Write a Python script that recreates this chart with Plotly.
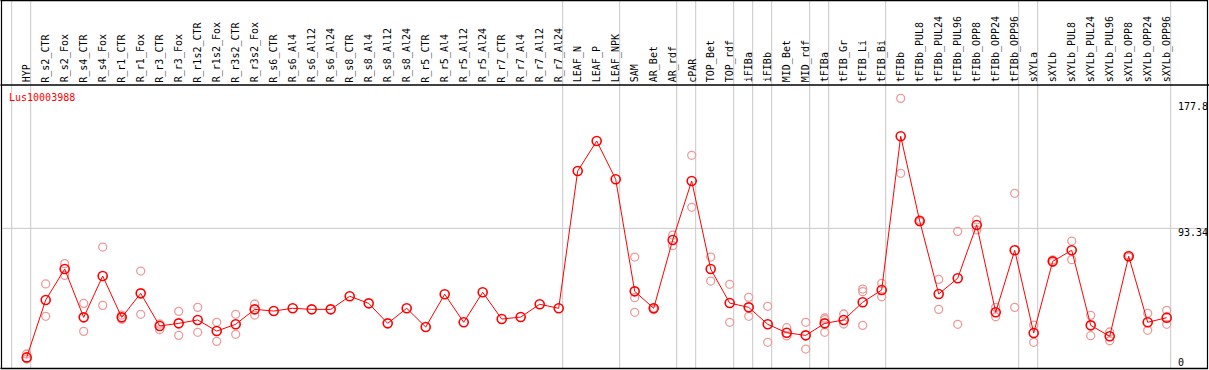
import plotly.graph_objects as go

W, H = 1209, 370

categories = ["HYP", "R_s2_CTR", "R_s2_Fox", "R_s4_CTR", "R_s4_Fox", "R_r1_CTR", "R_r1_Fox",
              "R_r3_CTR", "R_r3_Fox", "R_r1s2_CTR", "R_r1s2_Fox", "R_r3s2_CTR", "R_r3s2_Fox",
              "R_s6_CTR", "R_s6_Al4", "R_s6_Al12", "R_s6_Al24", "R_s8_CTR", "R_s8_Al4",
              "R_s8_Al12", "R_s8_Al24", "R_r5_CTR", "R_r5_Al4", "R_r5_Al12", "R_r5_Al24",
              "R_r7_CTR", "R_r7_Al4", "R_r7_Al12", "R_r7_Al24", "LEAF_N", "LEAF_P", "LEAF_NPK",
              "SAM", "AR_Bet", "AR_rdf", "cPAR", "TOP_Bet", "TOP_rdf", "iFIBa", "iFIBb",
              "MID_Bet", "MID_rdf", "tFIBa", "tFIB_Gr", "tFIB_Li", "tFIB_Bi", "tFIBb",
              "tFIBb_PUL8", "tFIBb_PUL24", "tFIBb_PUL96", "tFIBb_OPP8", "tFIBb_OPP24",
              "tFIBb_OPP96", "sXYLa", "sXYLb", "sXYLb_PUL8", "sXYLb_PUL24", "sXYLb_PUL96",
              "sXYLb_OPP8", "sXYLb_OPP24", "sXYLb_OPP96"]

means = [9.5, 46.8, 66.9, 35.5, 62.4, 35.5, 51.1, 29.9, 31.6, 33.8, 26.6, 31.0, 40.7,
         39.6, 41.4, 40.7, 40.7, 49.2, 44.6, 31.6, 41.4, 29.2, 50.5, 32.3, 51.8,
         34.4, 35.7, 44.0, 41.4, 130.6, 150.1, 125.2,
         52.4, 41.4, 85.8, 124.1, 66.9, 44.8, 42.0, 31.0,
         25.5, 23.8, 31.6, 33.8, 45.3, 53.3, 153.2,
         98.1, 50.7, 60.9, 95.5, 38.8, 79.1,
         25.3, 71.9, 79.1, 30.3, 23.2, 75.2, 32.3, 35.3]

replicates = [[11.7, 8.4], [57.2, 36.2], [70.4, 62.8], [44.6, 26.4], [81.2, 43.3],
              [37.0, 34.2], [65.6, 37.5], [31.2, 27.5], [39.4, 23.8], [42.0, 25.8],
              [32.3, 19.9], [37.5, 24.5], [44.2, 37.0],
              [], [], [], [], [], [], [], [], [], [], [], [], [], [], [], [],
              [], [], [],
              [74.7, 48.3, 38.8], [41.6, 40.6], [89.0, 82.1], [140.8, 107.0],
              [74.7, 59.1], [57.0, 32.3], [48.5, 36.2], [42.7, 19.3],
              [28.8, 23.4], [32.3, 14.9], [35.1, 34.0, 25.8], [37.7, 31.2],
              [53.9, 52.2, 30.3], [57.6, 48.9], [177.8, 129.1],
              [98.9, 97.5], [60.2, 40.7], [91.4, 31.0], [98.8, 92.3], [42.0, 35.9],
              [116.1, 42.0],
              [30.5, 19.3], [72.8, 71.1], [85.1, 73.0], [36.8, 23.6], [26.0, 20.3],
              [75.8, 74.6], [38.1, 27.1], [40.1, 31.0]]

group_ends = [-1, 0, 28, 31, 34, 35, 37, 38, 39, 41, 42, 45, 52, 53, 60]
y_ticks = [177.8, 93.34, 0]
y_tick_text = ["177.8", "93.34", "0"]
title = "Lus10003988"

# pixel geometry
STEP = 19.0
X0PX = 26.7
PXPU = 1.539
Y0PX = 372.0

def px_x(p):
    return p / W

def px_y(p):
    return 1 - p / H

xs = list(range(len(categories)))
rx, ry = [], []
for i, reps in enumerate(replicates):
    for v in reps:
        rx.append(i)
        ry.append(v)

fig = go.Figure()
fig.add_trace(go.Scatter(x=rx, y=ry, mode="markers",
                         marker=dict(symbol="circle-open", size=8, color="#EE9A9A",
                                     line=dict(width=1.3, color="#EE9A9A")),
                         hoverinfo="y", showlegend=False))
fig.add_trace(go.Scatter(x=xs, y=means, mode="lines+markers",
                         line=dict(color="#FF0000", width=1),
                         marker=dict(symbol="circle-open", size=9, color="#FF0000",
                                     line=dict(width=1.6, color="#FF0000")),
                         text=categories, hoverinfo="text+y", showlegend=False))

shapes = []
grey = "#C8C8C8"
for g in group_ends:
    shapes.append(dict(type="line", xref="x", yref="paper", x0=g + 4 / STEP, x1=g + 4 / STEP,
                       y0=px_y(368), y1=1, line=dict(color=grey, width=1), layer="below"))
shapes.append(dict(type="line", xref="paper", yref="y", x0=px_x(1), x1=px_x(1207),
                   y0=y_ticks[1], y1=y_ticks[1], line=dict(color=grey, width=1), layer="below"))
# frame
black = "#000000"
for (x0, y0, x1, y1) in [(0.5, 0.5, 1208, 0.5), (0.5, 85, 1209, 85), (0.5, 368.5, 1208, 368.5),
                         (1.5, 0, 1.5, 369), (1207.5, 0, 1207.5, 369)]:
    shapes.append(dict(type="line", xref="paper", yref="paper",
                       x0=px_x(x0), x1=px_x(x1), y0=px_y(y0), y1=px_y(y1),
                       line=dict(color=black, width=1.5 if y0 == y1 else 1.2)))

annotations = []
mono = "DejaVu Sans Mono"
for i, c in enumerate(categories):
    annotations.append(dict(x=i, xref="x", y=px_y(83.5), yref="paper", text=c, textangle=-90,
                            showarrow=False, xanchor="center", yanchor="bottom",
                            font=dict(family=mono, size=10, color="#000000"), borderpad=0))
label_y = [106.7, 232, 362]
for t, ly in zip(y_tick_text, label_y):
    annotations.append(dict(x=px_x(1177), xref="paper", y=px_y(ly), yref="paper", text=t,
                            showarrow=False, xanchor="left", yanchor="middle",
                            font=dict(family=mono, size=10, color="#000000"), borderpad=0))
annotations.append(dict(x=px_x(8), xref="paper", y=px_y(97.5), yref="paper", text=title,
                        showarrow=False, xanchor="left", yanchor="middle",
                        font=dict(family=mono, size=10, color="#FF0000"), borderpad=0))

x_lo = -X0PX / STEP
x_hi = (W - X0PX) / STEP
y_hi = Y0PX / PXPU
y_lo = (Y0PX - H) / PXPU

fig.update_layout(width=W, height=H, margin=dict(l=0, r=0, t=0, b=0),
                  paper_bgcolor="white", plot_bgcolor="white",
                  xaxis=dict(range=[x_lo, x_hi], visible=False, fixedrange=True),
                  yaxis=dict(range=[y_lo, y_hi], visible=False, fixedrange=True),
                  shapes=shapes, annotations=annotations, showlegend=False)

fig.write_html("out.html", config={"displayModeBar": False},
               post_script="document.body.style.margin='0px';document.body.style.overflow='hidden';")
